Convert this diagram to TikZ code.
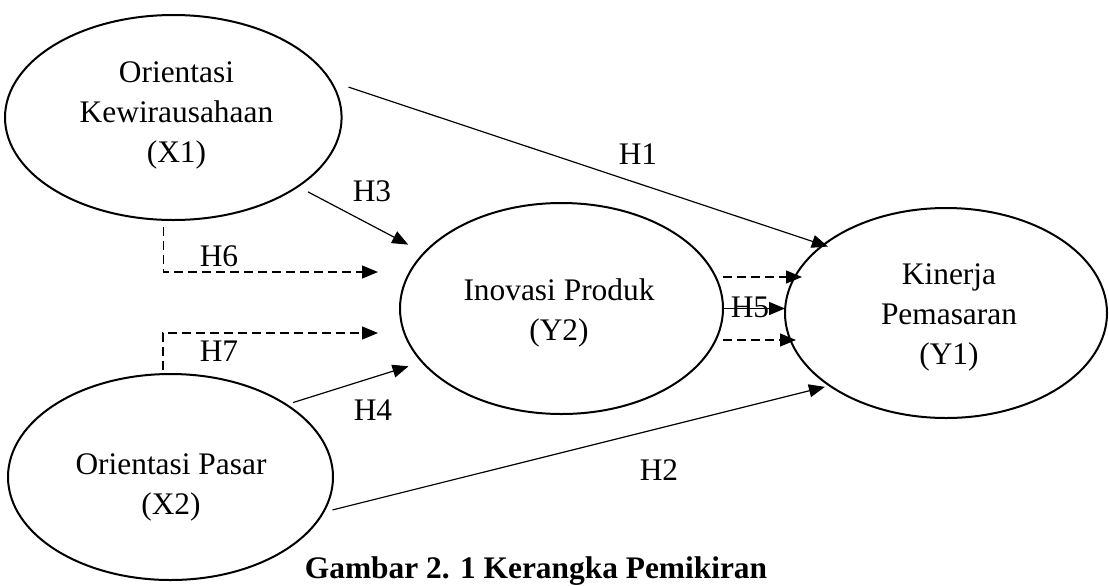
\documentclass[tikz,border=0pt]{standalone}
\usepackage{fontspec}
\setmainfont{Liberation Serif}
\usetikzlibrary{arrows.meta,positioning,calc,shapes.geometric}

\tikzset{
  konstruk/.style={draw,ellipse,line width=1pt,inner sep=0pt,outer sep=0pt},
  teks/.style={align=center,inner sep=0pt},
  lbl/.style={inner sep=0pt},
  hip/.style={->,line width=0.6pt},
  hipdash/.style={hip,dash pattern=on 4.5pt off 2.5pt},
}

\begin{document}
\begin{tikzpicture}[x=0.5pt,y=-0.5pt,>={Triangle[length=8pt,width=6.5pt]},
  font=\fontsize{15.7}{20}\selectfont]
\useasboundingbox (0,0) rectangle (1109,585);
% konstruk
\node[konstruk,minimum width=168.3pt,minimum height=102.5pt] (x1) at (173.3,117.5) {};
\node[konstruk,minimum width=162.5pt,minimum height=103pt] (x2) at (170.5,477) {};
\node[konstruk,minimum width=161.5pt,minimum height=105.5pt] (y2) at (561.5,308.5) {};
\node[konstruk,minimum width=161pt,minimum height=105pt] (y1) at (946,313) {};
\node[teks] (x1txt) at (176.5,115.5) {Orientasi\\Kewirausahaan\\(X1)};
\node[teks] (x2txt) at (171,487.5) {Orientasi Pasar\\(X2)};
\node[teks] (y2txt) at (559,312.5) {Inovasi Produk\\(Y2)};
\node[teks] (y1txt) at (949,317.5) {Kinerja\\Pemasaran\\(Y1)};
% hipotesis langsung
\draw[hip,shorten <=9.4pt,shorten >=-2.4pt] (x1.13) -- (y1.151);
\draw[hip,shorten <=4.8pt,shorten >=2.5pt] (x2.347) -- (y1.212);
\draw[hip,shorten <=5.8pt,shorten >=9pt] (x1.331) -- (y2.158);
\draw[hip,shorten <=3.6pt,shorten >=7.2pt] (x2.32) -- (y2.201);
\draw[hip] (y2.east) -- (y2.east -| y1.west);
% mediasi
\draw[hipdash] ([xshift=-5pt,yshift=-3.5pt]x1.south) |- ([xshift=-11pt,yshift=18.25pt]y2.west);
\draw[hipdash] ([xshift=-3.75pt,yshift=2pt]x2.north) |- ([xshift=-11pt,yshift=-12.25pt]y2.west);
\draw[hipdash] ([yshift=15.75pt]y2.east) -- ([xshift=8.5pt,yshift=18pt]y1.west);
\draw[hipdash] ([yshift=-15.75pt]y2.east) -- ([xshift=5.5pt,yshift=-13.5pt]y1.west);
% label
\node[lbl] (h1) at (638,154) {H1};
\node[lbl] (h2) at (659,470) {H2};
\node[lbl] (h3) at (372,191) {H3};
\node[lbl] (h4) at (373,410) {H4};
\node[lbl] (h5) at (750,307) {H5};
\node[lbl] (h6) at (219,256) {H6};
\node[lbl] (h7) at (219,351) {H7};
\node[lbl,anchor=base,font=\fontsize{15.7}{20}\selectfont\bfseries] (judul) at (536,578) {Gambar 2. 1 Kerangka Pemikiran};
\end{tikzpicture}
\end{document}
